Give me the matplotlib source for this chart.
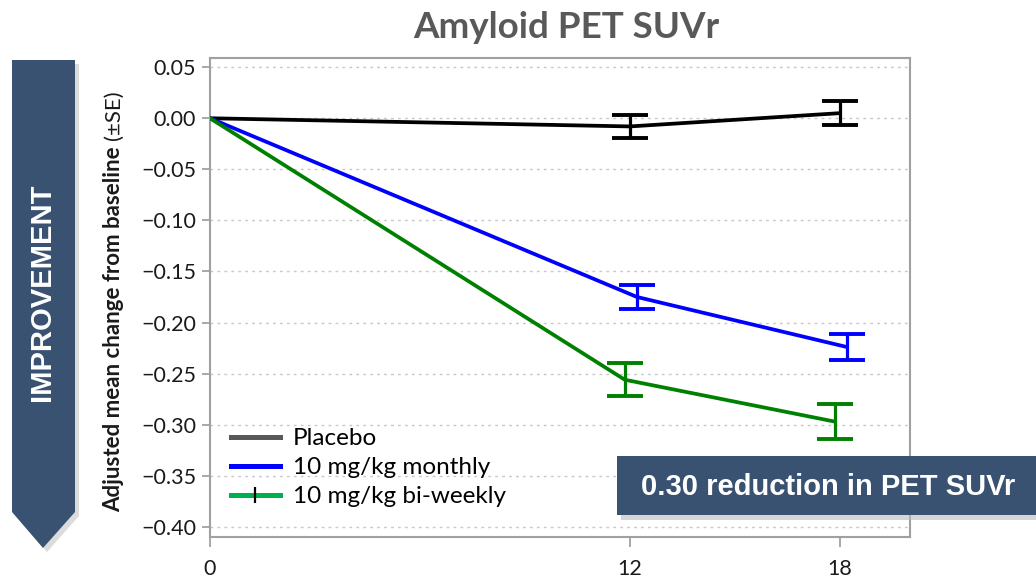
import matplotlib
matplotlib.use("Agg")
import matplotlib.pyplot as plt
from matplotlib.lines import Line2D
from matplotlib.patches import Polygon, Rectangle

# Data
visits = [0, 12, 18]
placebo = [0.0, -0.008, 0.005]
placebo_se = [0.0, 0.011, 0.012]
monthly = [0.0, -0.175, -0.224]
monthly_se = [0.0, 0.012, 0.013]
biweekly = [0.0, -0.256, -0.297]
biweekly_se = [0.0, 0.016, 0.017]

series_labels = ["Placebo", "10 mg/kg monthly", "10 mg/kg bi-weekly"]
ytick_values = [0.05, 0.00, -0.05, -0.10, -0.15, -0.20, -0.25, -0.30, -0.35, -0.40]
xtick_values = [0, 12, 18]

W, H = 1036, 580
NAVY = "#3a5272"
SANS = ["Lato", "DejaVu Sans"]
ARIAL = ["Liberation Sans", "DejaVu Sans"]

def fx(px):
    return px / W

def fy(py):
    return 1 - py / H

fig = plt.figure(figsize=(W / 100, H / 100), dpi=100)
ax = fig.add_axes([fx(210), fy(537), fx(910) - fx(210), fy(58) - fy(537)])

# series: values, se, line colour, small x dodge so the bars don't overlap
series = [
    (placebo, placebo_se, "black", 0.0),
    (monthly, monthly_se, "#0000ff", 0.2),
    (biweekly, biweekly_se, "#008000", -0.15),
]
for vals, se, col, dx in series:
    xs = [visits[0]] + [v + dx for v in visits[1:]]
    ax.plot(xs, vals, color=col, lw=2.7, solid_capstyle="round", zorder=3)
    ax.errorbar(xs[1:], vals[1:], yerr=se[1:], fmt="none", ecolor=col,
                elinewidth=2.3, capsize=13, capthick=2.8, zorder=3)

ax.set_xlim(0, 20)
ax.set_ylim(-0.41, 0.059)
ax.set_yticks(ytick_values)
ax.set_yticklabels([f"{v:.2f}".replace("-", "\u2212") for v in ytick_values])
ax.set_xticks(xtick_values)
ax.set_xticklabels([str(v) for v in xtick_values])
for lab in ax.get_xticklabels() + ax.get_yticklabels():
    lab.set_family(SANS)
    lab.set_fontsize(15.5)
    lab.set_color("#1a1a1a")
ax.tick_params(axis="y", length=6, width=1.2, color="#999999", pad=4)
ax.tick_params(axis="x", length=7, width=1.2, color="#999999", pad=9)
ax.yaxis.grid(True, color="#c8c8c8", lw=1, linestyle=(0, (2, 3)))
ax.set_axisbelow(True)
for sp in ax.spines.values():
    sp.set_color("#a0a0a0")
    sp.set_linewidth(1.5)

# legend
handles = [
    Line2D([], [], color="#595959", lw=3.6),
    Line2D([], [], color="#0000ff", lw=3.6),
    Line2D([], [], color="#00b050", lw=3.6, marker="|", markersize=11,
           markeredgecolor="black", markeredgewidth=1.6),
]
fig.legend(handles, series_labels, loc="upper left",
           bbox_to_anchor=(fx(231), fy(428)), bbox_transform=fig.transFigure,
           frameon=False, prop={"family": SANS, "size": 17.5},
           handlelength=2.0, handletextpad=0.55, labelspacing=0.33,
           borderpad=0, borderaxespad=0)

# title
fig.text(fx(566), fy(27), "Amyloid PET SUVr", ha="center", va="center",
         fontsize=26.5, fontweight="bold", color="#595959", family=SANS)

# y label: bold part + normal (±SE)
ylab = fig.text(fx(114), fy(512), "Adjusted mean change from baseline",
                rotation=90, ha="center", va="bottom", fontsize=16,
                fontweight="bold", color="#1a1a1a", family=SANS)
fig.canvas.draw()
bb = ylab.get_window_extent()
fig.text(fx(114), (bb.y1 + 6) / H, "(\u00b1SE)", rotation=90, ha="center",
         va="bottom", fontsize=16, color="#1a1a1a", family=SANS)

# IMPROVEMENT arrow banner
shadow = Polygon([(fx(16), fy(64)), (fx(79), fy(64)), (fx(79), fy(516)),
                  (fx(47), fy(552)), (fx(16), fy(516))], closed=True,
                 transform=fig.transFigure, facecolor="#bbbbbb", alpha=0.5,
                 edgecolor="none")
arrow = Polygon([(fx(12), fy(60)), (fx(75), fy(60)), (fx(75), fy(512)),
                 (fx(43), fy(548)), (fx(12), fy(512))], closed=True,
                transform=fig.transFigure, facecolor=NAVY, edgecolor="none")
fig.patches.extend([shadow, arrow])
fig.text(fx(42), fy(292), "IMPROVEMENT", rotation=90, ha="center", va="center",
         fontsize=21, fontweight="bold", color="white", family=ARIAL)

# result box
box_shadow = Rectangle((fx(621), fy(520)), fx(1036) - fx(621), fy(461) - fy(520),
                       transform=fig.transFigure, facecolor="#bbbbbb",
                       alpha=0.6, edgecolor="none")
box = Rectangle((fx(617), fy(515)), fx(1036) - fx(617), fy(456) - fy(515),
                transform=fig.transFigure, facecolor=NAVY, edgecolor="none")
fig.patches.extend([box_shadow, box])
fig.text(fx(828), fy(487), "0.30 reduction in PET SUVr", ha="center",
         va="center", fontsize=21, fontweight="bold", color="white",
         family=ARIAL)

fig.savefig("out.png", dpi=100)
